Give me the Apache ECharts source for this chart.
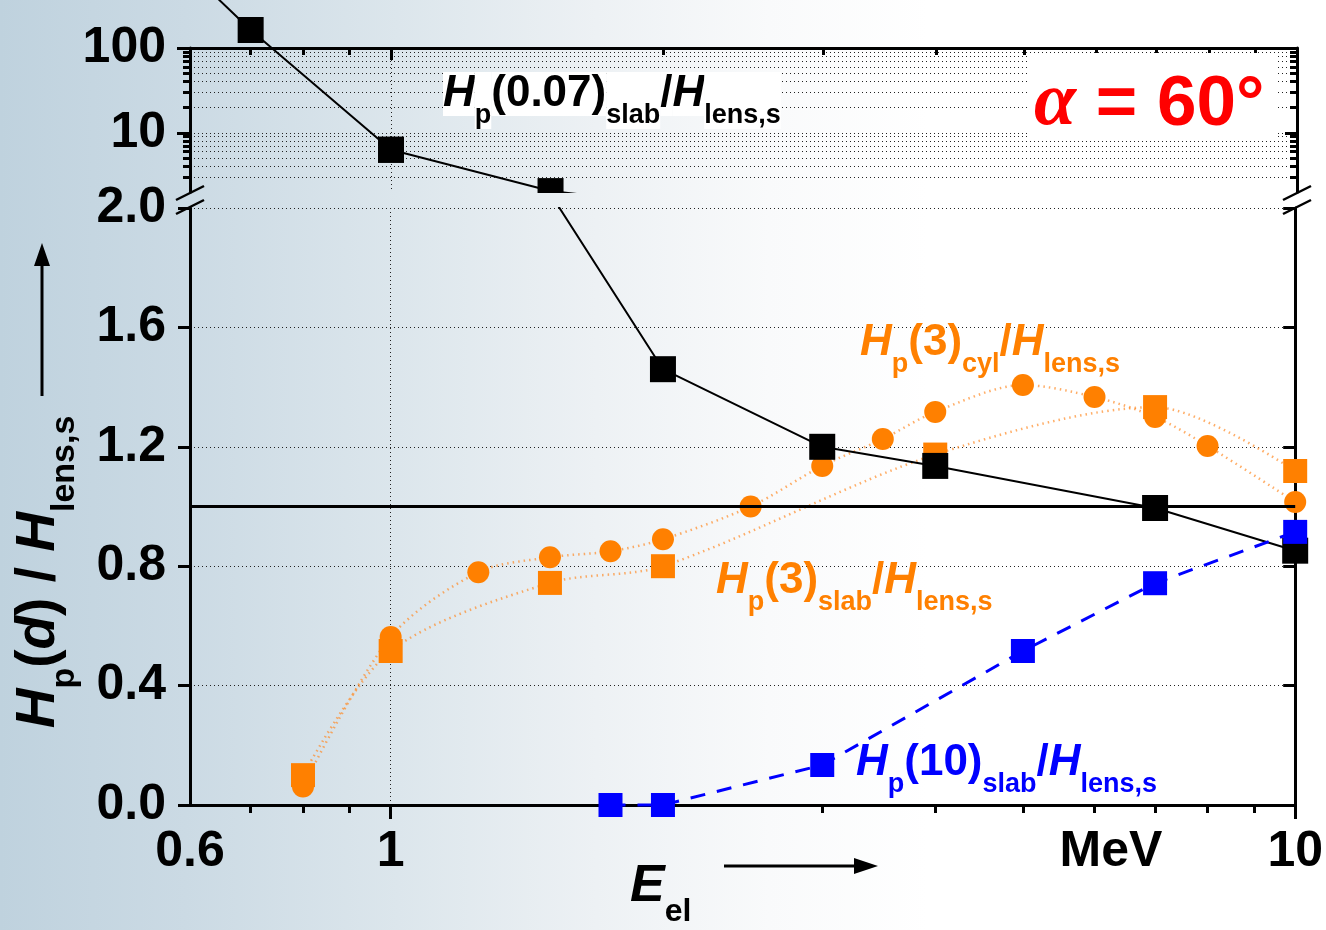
<!DOCTYPE html>
<html>
<head>
<meta charset="utf-8">
<script src="https://cdn.jsdelivr.net/npm/echarts@6/dist/echarts.min.js"></script>
<style>
  html, body { margin: 0; padding: 0; background: #fff; }
  #chart { width: 1326px; height: 930px; }
</style>
</head>
<body>
<div id="chart"></div>
<script>
// Electron energy (MeV) and dose ratios H_p(d) / H_lens,s for alpha = 60 deg
const energyH007 = [0.6, 0.7, 1, 1.5, 2, 3, 4, 7, 10];
const ratioH007  = [790, 163, 6.3, 2.05, 1.46, 1.2, 1.136, 0.995, 0.852];

const energyH3Cyl = [0.8, 1, 1.25, 1.5, 1.75, 2, 2.5, 3, 3.5, 4, 5, 6, 7, 8, 10];
const ratioH3Cyl  = [0.062, 0.563, 0.78, 0.83, 0.85, 0.89, 1.00, 1.136, 1.226, 1.317, 1.407, 1.367, 1.30, 1.203, 1.015];

const energyH3Slab = [0.8, 1, 1.5, 2, 4, 7, 10];
const ratioH3Slab  = [0.10, 0.516, 0.744, 0.80, 1.174, 1.333, 1.119];

const energyH10Slab = [1.75, 2, 3, 5, 7, 10];
const ratioH10Slab  = [0, 0, 0.134, 0.516, 0.743, 0.915];

// Axis ticks and labels
const xLabelValues  = [0.6, 1, 10];
const xMajorTicks   = [1, 10];
const xMinorTicks   = [0.7, 0.8, 0.9, 2, 3, 4, 5, 6, 7, 8, 9];
const yTopMajor     = [10, 100];
const yTopMinor     = [3, 4, 5, 6, 7, 8, 9, 20, 30, 40, 50, 60, 70, 80, 90];
const yBottomRange  = [0, 2.0];
const yBottomStep   = 0.4;
const yTopRange     = [2, 100];
const xRange        = [0.6, 10];

const zip = (xs, ys) => xs.map((x, i) => [x, ys[i]]);

const FONT = '"Liberation Sans", Arial, Helvetica, sans-serif';
const ORANGE = '#ff8000';
const ORANGE_LINE = 'rgba(255,140,40,0.7)';
const BLUE = '#0000ff';

const L = 190, R = 1297, TOP_T = 48, TOP_B = 192, BOT_T = 208, BOT_B = 805;

const bgStops = [
  { offset: 0.00, color: '#bfd2de' },
  { offset: 0.14, color: '#cbdae4' },
  { offset: 0.30, color: '#dce6ec' },
  { offset: 0.45, color: '#edf1f4' },
  { offset: 0.58, color: '#f9fafb' },
  { offset: 0.70, color: '#ffffff' },
  { offset: 1.00, color: '#ffffff' }
];

const axisLineStyle = { color: '#000', width: 3 };
const tickLineStyle = { color: '#000', width: 3 };
const dottedGrid = { show: true, lineStyle: { color: '#222', width: 1, type: [1, 3] } };
const noLabel = { show: false };

function logX(gridIndex, position, cfg) {
  return Object.assign({
    gridIndex, position, type: 'log', logBase: 10, min: xRange[0], max: xRange[1],
    axisLine: { show: false, onZero: false },
    axisLabel: noLabel, splitLine: { show: false }
  }, cfg);
}
function logYTop(position, cfg) {
  return Object.assign({
    gridIndex: 0, position, type: 'log', logBase: 10, min: yTopRange[0], max: yTopRange[1],
    axisLine: { show: false, onZero: false },
    axisLabel: noLabel, splitLine: { show: false }
  }, cfg);
}
function linYBottom(position, cfg) {
  return Object.assign({
    gridIndex: 1, position, type: 'value', min: yBottomRange[0], max: yBottomRange[1],
    interval: yBottomStep,
    axisLine: { show: false, onZero: false },
    axisLabel: noLabel, splitLine: { show: false }
  }, cfg);
}

const tickLabelStyle = {
  color: '#000', fontSize: 50, fontWeight: 'bold', fontFamily: FONT
};

// rich text pieces for the ratio labels (main glyphs, italic symbols, subscripts)
function richSet(color, F, S, P, bg) {
  const base = { fill: color, fontFamily: FONT, fontWeight: 'bold', verticalAlign: 'top' };
  const b = bg ? { backgroundColor: bg } : {};
  return {
    h:  Object.assign({}, base, b, { fontSize: F, fontStyle: 'italic' }),
    n:  Object.assign({}, base, b, { fontSize: F }),
    s:  Object.assign({}, base, b, { fontSize: S, padding: [P, 0, 0, 0] })
  };
}

function ratioText(x, y, parts, color, bg) {
  return {
    type: 'text', x, y, z: 60, silent: true,
    style: {
      text: parts, align: 'left', verticalAlign: 'top',
      rich: richSet(color, 44, 27, 30, bg)
    }
  };
}

const option = {
  backgroundColor: new echarts.graphic.LinearGradient(0, 0, 1, 0, bgStops),
  animation: false,
  grid: [
    { left: L, top: TOP_T, width: R - L, height: TOP_B - TOP_T },
    { left: L, top: BOT_T, width: R - L, height: BOT_B - BOT_T }
  ],
  xAxis: [
    logX(0, 'top', {
      axisLine: { show: true, onZero: false, lineStyle: axisLineStyle },
      axisTick: { show: true, inside: true, length: 12, customValues: xMajorTicks, lineStyle: tickLineStyle },
      splitLine: dottedGrid
    }),
    logX(0, 'top', {
      axisTick: { show: true, inside: true, length: 7, customValues: xMinorTicks, lineStyle: tickLineStyle }
    }),
    logX(1, 'bottom', {
      axisLine: { show: true, onZero: false, lineStyle: axisLineStyle },
      axisTick: { show: true, inside: false, length: 14, customValues: xMajorTicks, lineStyle: tickLineStyle },
      axisLabel: Object.assign({ show: true, margin: 22, customValues: xLabelValues,
        formatter: v => String(Math.round(v * 10) / 10) }, tickLabelStyle),
      splitLine: dottedGrid
    }),
    logX(1, 'bottom', {
      axisTick: { show: true, inside: false, length: 8, customValues: xMinorTicks, lineStyle: tickLineStyle }
    })
  ],
  yAxis: [
    logYTop('left', {
      axisLine: { show: true, onZero: false, lineStyle: axisLineStyle },
      axisTick: { show: true, inside: false, length: 13, customValues: yTopMajor, lineStyle: tickLineStyle },
      axisLabel: Object.assign({ show: true, margin: 24, customValues: yTopMajor,
        formatter: v => String(Math.round(v)) }, tickLabelStyle),
      splitLine: dottedGrid
    }),
    logYTop('left', {
      axisTick: { show: true, inside: false, length: 7, customValues: yTopMinor, lineStyle: tickLineStyle },
      splitLine: dottedGrid
    }),
    logYTop('right', {
      axisLine: { show: true, onZero: false, lineStyle: axisLineStyle },
      axisTick: { show: true, inside: true, length: 12, customValues: yTopMajor, lineStyle: tickLineStyle }
    }),
    logYTop('right', {
      axisTick: { show: true, inside: true, length: 7, customValues: yTopMinor, lineStyle: tickLineStyle }
    }),
    linYBottom('left', {
      axisLine: { show: true, onZero: false, lineStyle: axisLineStyle },
      axisTick: { show: true, inside: false, length: 12, lineStyle: tickLineStyle },
      axisLabel: Object.assign({ show: true, margin: 24, formatter: v => v.toFixed(1) }, tickLabelStyle),
      splitLine: dottedGrid
    }),
    linYBottom('right', {
      axisLine: { show: true, onZero: false, lineStyle: axisLineStyle },
      axisTick: { show: true, inside: true, length: 12, lineStyle: tickLineStyle }
    })
  ],
  series: [
    {
      name: 'Hp(3)slab', type: 'line', xAxisIndex: 2, yAxisIndex: 4,
      data: zip(energyH3Slab, ratioH3Slab), clip: false, z: 2, smooth: 0.3,
      symbol: 'rect', symbolSize: 24, itemStyle: { color: ORANGE },
      lineStyle: { color: ORANGE_LINE, width: 2.5, type: [1.5, 4] }
    },
    {
      name: 'Hp(3)cyl', type: 'line', xAxisIndex: 2, yAxisIndex: 4,
      data: zip(energyH3Cyl, ratioH3Cyl), clip: false, z: 2, smooth: 0.3,
      symbol: 'circle', symbolSize: 22, itemStyle: { color: ORANGE },
      lineStyle: { color: ORANGE_LINE, width: 2.5, type: [1.5, 4] }
    },
    // Hp(0.07): upper (log) panel, points above the frame stay visible
    {
      name: 'Hp(0.07)slab', type: 'line', xAxisIndex: 0, yAxisIndex: 0,
      data: zip(energyH007.slice(0, 3), ratioH007.slice(0, 3)), clip: false, z: 3,
      symbol: 'rect', symbolSize: 26, itemStyle: { color: '#000' },
      lineStyle: { color: '#000', width: 2 }
    },
    // Hp(0.07): upper panel near the axis break, clipped to the panel
    {
      name: 'Hp(0.07)slab', type: 'line', xAxisIndex: 0, yAxisIndex: 0,
      data: zip(energyH007.slice(2, 5), ratioH007.slice(2, 5)), clip: true, z: 3,
      symbol: 'rect', symbolSize: 26, itemStyle: { color: '#000' },
      lineStyle: { color: '#000', width: 2 }
    },
    // Hp(0.07): lower (linear) panel, with the reference line at 1
    {
      name: 'Hp(0.07)slab', type: 'line', xAxisIndex: 2, yAxisIndex: 4,
      data: zip(energyH007.slice(3), ratioH007.slice(3)), clip: true, z: 3,
      symbol: 'rect', symbolSize: 26, itemStyle: { color: '#000' },
      lineStyle: { color: '#000', width: 2 },
      markLine: {
        silent: true, symbol: 'none', label: { show: false },
        lineStyle: { color: '#000', width: 3, type: 'solid' },
        data: [{ yAxis: 1 }]
      }
    },
    {
      name: 'Hp(10)slab', type: 'line', xAxisIndex: 2, yAxisIndex: 4,
      data: zip(energyH10Slab, ratioH10Slab), clip: false, z: 4,
      symbol: 'rect', symbolSize: 24, itemStyle: { color: BLUE },
      lineStyle: { color: BLUE, width: 3, type: [15, 12] }
    }
  ],
  graphic: {
    elements: [
      // gap of the broken value axis
      {
        type: 'rect', z: 40, silent: true,
        shape: { x: L + 2, y: TOP_B + 1, width: R - L - 4, height: BOT_T - TOP_B - 2 },
        style: { fill: new echarts.graphic.LinearGradient(0, 0, 1326, 0, bgStops, true) }
      },
      // break marks on both vertical axes
      ...[L, R].flatMap(x => [TOP_B + 1, BOT_T - 1].map(y => ({
        type: 'line', z: 41, silent: true,
        shape: { x1: x - 14, y1: y + 7, x2: x + 14, y2: y - 7 },
        style: { stroke: '#000', lineWidth: 2.5 }
      }))),
      // white box behind the angle label
      {
        type: 'rect', z: 45, silent: true,
        shape: { x: 1028, y: 53, width: 248, height: 87 },
        style: { fill: '#fff' }
      },
      {
        type: 'text', x: 1034, y: 66, z: 60, silent: true,
        style: {
          text: '{a|α}{b| = 60°}', align: 'left', verticalAlign: 'top',
          rich: {
            a: { fill: '#ff0000', fontFamily: '"Liberation Serif", "DejaVu Serif", serif', fontSize: 76,
                 fontStyle: 'italic', fontWeight: 'bold', verticalAlign: 'top', padding: [0, 0, 0, 0] },
            b: { fill: '#ff0000', fontFamily: FONT, fontSize: 71, fontWeight: 'bold', verticalAlign: 'top',
                 padding: [4, 0, 0, 0] }
          }
        }
      },
      ratioText(443, 72, '{h|H}{s|p}{n|(0.07)}{s|slab}{n|/}{h|H}{s|lens,s}', '#000', '#fff'),
      ratioText(860, 321, '{h|H}{s|p}{n|(3)}{s|cyl}{n|/}{h|H}{s|lens,s}', ORANGE),
      ratioText(716, 559, '{h|H}{s|p}{n|(3)}{s|slab}{n|/}{h|H}{s|lens,s}', ORANGE),
      ratioText(856, 741, '{h|H}{s|p}{n|(10)}{s|slab}{n|/}{h|H}{s|lens,s}', BLUE),
      // unit label on the energy axis
      {
        type: 'text', x: 1111, y: 827, z: 60, silent: true,
        style: { text: 'MeV', align: 'center', verticalAlign: 'top',
          fill: '#000', fontFamily: FONT, fontSize: 50, fontWeight: 'bold' }
      },
      // energy axis title and arrow
      {
        type: 'text', x: 630, y: 861, z: 60, silent: true,
        style: {
          text: '{h|E}{s|el}', align: 'left', verticalAlign: 'top',
          rich: richSet('#000', 52, 32, 35)
        }
      },
      {
        type: 'line', z: 60, silent: true,
        shape: { x1: 724, y1: 866, x2: 858, y2: 866 },
        style: { stroke: '#000', lineWidth: 3 }
      },
      {
        type: 'polygon', z: 60, silent: true,
        shape: { points: [[878, 866], [854, 858], [854, 874]] },
        style: { fill: '#000' }
      },
      // value axis title and arrow
      {
        type: 'text', x: 11, y: 572, rotation: Math.PI / 2, z: 60, silent: true,
        style: {
          text: '{h|H}{s|p}{n|(}{h|d}{n|) / }{h|H}{s|lens,s}', align: 'center', verticalAlign: 'top',
          rich: richSet('#000', 55, 34, 37)
        }
      },
      {
        type: 'line', z: 60, silent: true,
        shape: { x1: 42, y1: 396, x2: 42, y2: 262 },
        style: { stroke: '#000', lineWidth: 3 }
      },
      {
        type: 'polygon', z: 60, silent: true,
        shape: { points: [[42, 243], [34, 266], [50, 266]] },
        style: { fill: '#000' }
      }
    ]
  }
};

const chart = echarts.init(document.getElementById('chart'), null, { renderer: 'canvas' });
chart.setOption(option);
</script>
</body>
</html>
